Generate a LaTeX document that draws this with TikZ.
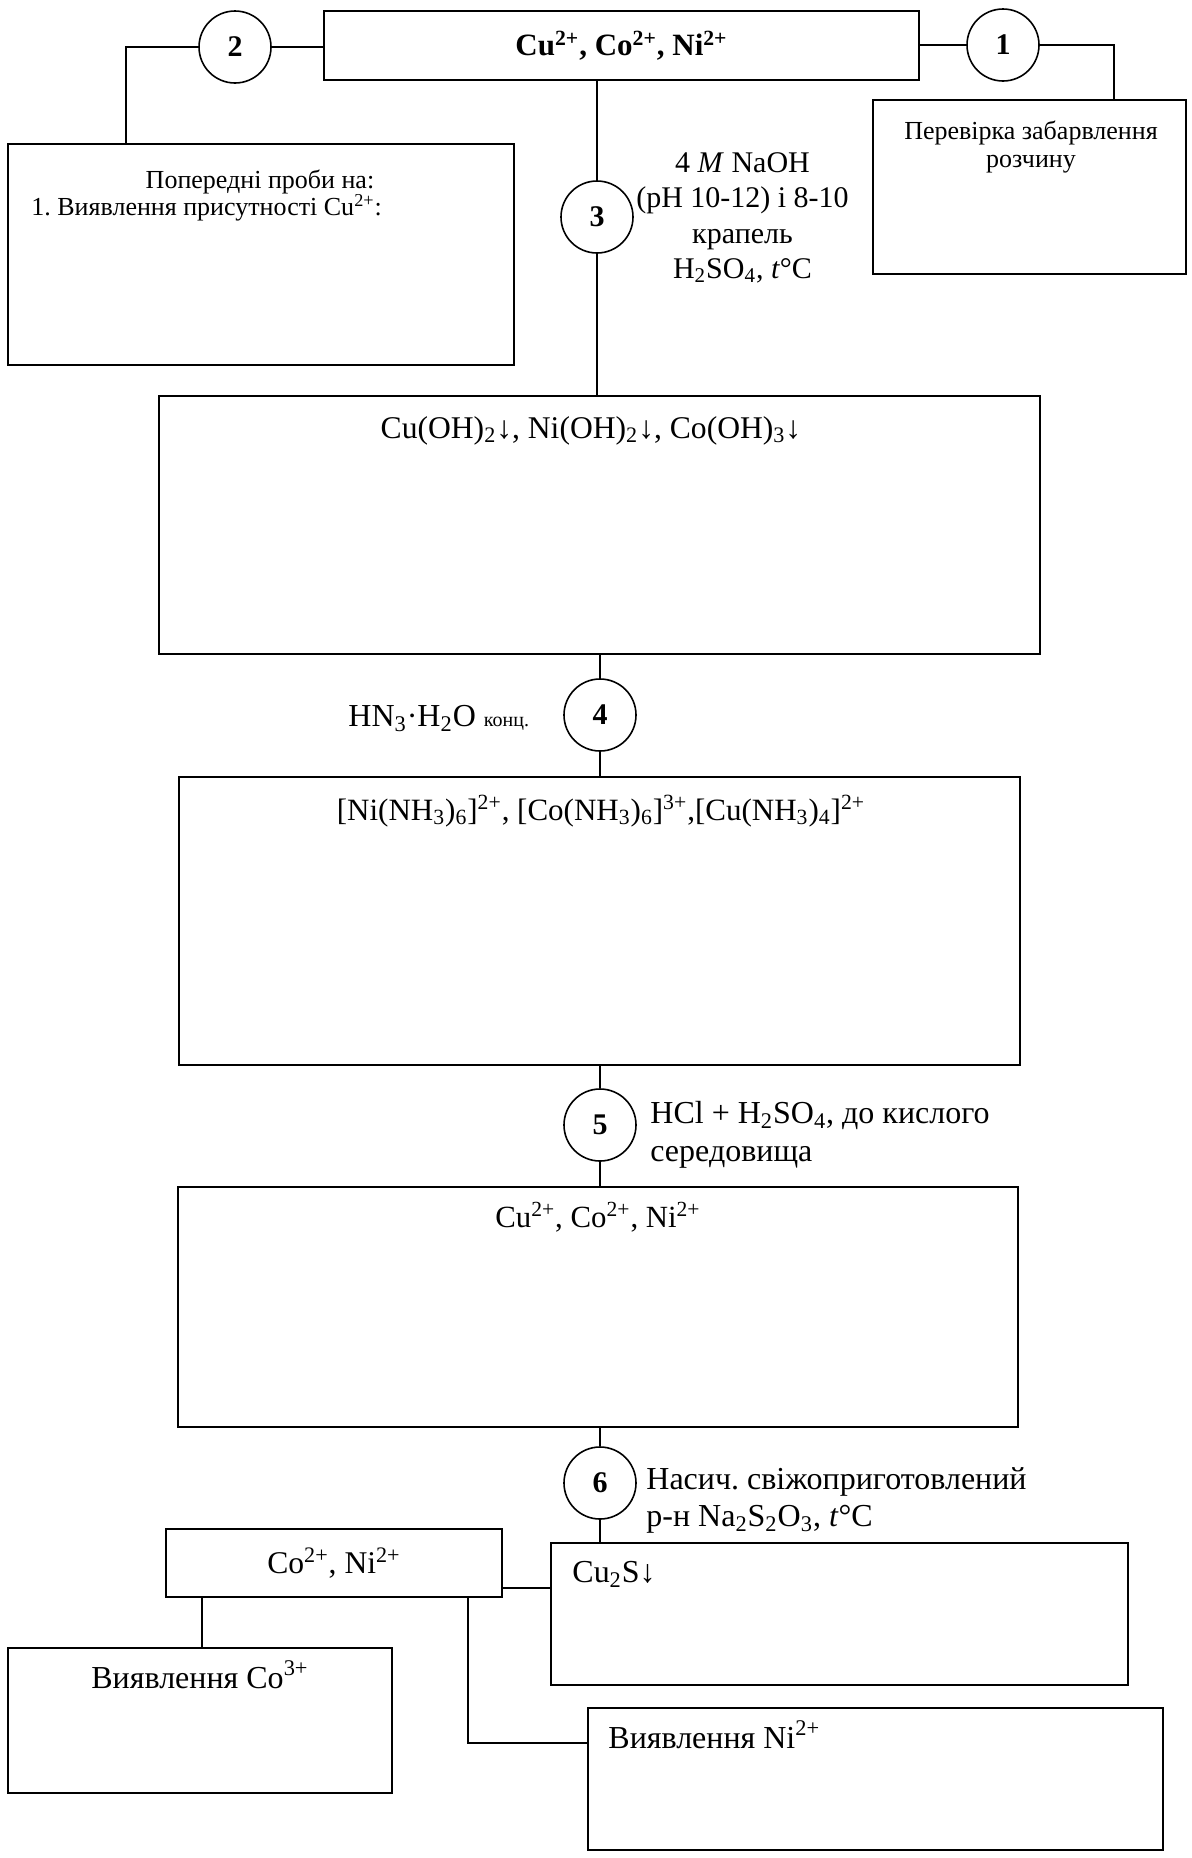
\documentclass[tikz,border=0pt]{standalone}
\usepackage{fontspec}
\setmainfont{Liberation Serif}
\usepackage{tikz}
\frenchspacing

\tikzset{
    stage/.style={draw, line width=0.8pt, inner sep=0pt, font=\fontsize{15.8}{18}\selectfont},
    num/.style={draw, circle, line width=0.8pt, minimum size=36pt, inner sep=0pt, font=\fontsize{15}{18}\selectfont\bfseries},
    txt/.style={inner sep=0pt, font=\fontsize{15.8}{18}\selectfont},
    link/.style={line width=0.8pt}
}

\begin{document}
    \begin{tikzpicture}[x=0.5pt, y=-0.5pt]
        \fill[white] (0,0) rectangle (1192,1858);
        \useasboundingbox (0,0) rectangle (1192,1858);

        \node[stage, minimum width=297.5pt, minimum height=34.5pt, font=\fontsize{15.5}{18}\selectfont\bfseries] (ions) at (621.5,45.5) {Cu\textsuperscript{2+}, Co\textsuperscript{2+}, Ni\textsuperscript{2+}};
        \node[num] (c2) at (235,47) {2};
        \node[num] (c1) at (1003,45) {1};
        \node[stage, minimum width=253pt, minimum height=110.5pt] (prelim) at (261,254.5) {};
        \node[stage, minimum width=156.5pt, minimum height=87pt] (colour) at (1029.5,187) {};
        \node[num] (c3) at (597,217) {3};
        \node[stage, minimum width=440.5pt, minimum height=129pt] (hydrox) at (599.5,525) {};
        \node[num] (c4) at (600,715) {4};
        \node[stage, minimum width=420.5pt, minimum height=144pt] (ammin) at (599.5,921) {};
        \node[num] (c5) at (600,1125) {5};
        \node[stage, minimum width=420pt, minimum height=120pt] (acid) at (598,1307) {};
        \node[num] (c6) at (600,1483) {6};
        \node[stage, minimum width=168pt, minimum height=34pt] (coni) at (334,1563) {Co\textsuperscript{2+}, Ni\textsuperscript{2+}};
        \node[stage, minimum width=288.5pt, minimum height=71pt] (cus) at (839.5,1614) {};
        \node[stage, minimum width=192pt, minimum height=72.5pt] (cothree) at (200,1720.5) {};
        \node[stage, minimum width=287.5pt, minimum height=71pt] (nitwo) at (875.5,1779) {};

        \node[txt, anchor=base, font=\fontsize{13}{14}\selectfont] (prelimhead) at (260,188) {Попередні проби на:};
        \node[txt, anchor=base west, font=\fontsize{13}{14}\selectfont] (prelimcu) at (31,215) {1. Виявлення присутності Cu\textsuperscript{2+}:};
        \node[txt, anchor=north, align=center, font=\fontsize{13}{14}\selectfont] (colourtxt) at (1031,120) {Перевірка забарвлення\\розчину};
        \node[txt, anchor=north, align=center, font=\fontsize{15}{17.7}\selectfont] (naoh) at (742.5,152) {4 \textit{M} NaOH\\(pH 10-12) і 8-10\\крапель\\H\textsubscript{2}SO\textsubscript{4}, \textit{t}°C};
        \node[txt, anchor=base] (hydroxtxt) at (591,438) {Cu(OH)\textsubscript{2}↓, Ni(OH)\textsubscript{2}↓, Co(OH)\textsubscript{3}↓};
        \node[txt, anchor=base west, font=\fontsize{16}{18}\selectfont] (ammonia) at (348,726) {HN\textsubscript{3}·H\textsubscript{2}O {\fontsize{10}{12}\selectfont конц.}};
        \node[txt, anchor=base, font=\fontsize{15.5}{18}\selectfont] (ammintxt) at (601,820) {[Ni(NH\textsubscript{3})\textsubscript{6}]\textsuperscript{2+}, [Co(NH\textsubscript{3})\textsubscript{6}]\textsuperscript{3+},[Cu(NH\textsubscript{3})\textsubscript{4}]\textsuperscript{2+}};
        \node[txt, anchor=north west, align=left, font=\fontsize{16}{19}\selectfont] (acidify) at (650,1101) {HCl + H\textsubscript{2}SO\textsubscript{4}, до кислого\\середовища};
        \node[txt, anchor=base, font=\fontsize{15.4}{18}\selectfont] (acidtxt) at (598,1227) {Cu\textsuperscript{2+}, Co\textsuperscript{2+}, Ni\textsuperscript{2+}};
        \node[txt, anchor=north west, align=left, font=\fontsize{16}{18.5}\selectfont] (thio) at (646,1467) {Насич. свіжоприготовлений\\р-н Na\textsubscript{2}S\textsubscript{2}O\textsubscript{3}, \textit{t}°C};
        \node[txt, anchor=base west, font=\fontsize{16}{18}\selectfont] (custxt) at (572,1582) {Cu\textsubscript{2}S↓};
        \node[txt, anchor=base, font=\fontsize{16}{18}\selectfont] (cothreetxt) at (200,1688) {Виявлення Co\textsuperscript{3+}};
        \node[txt, anchor=base west, font=\fontsize{16}{18}\selectfont] (nitwotxt) at (608,1748) {Виявлення Ni\textsuperscript{2+}};

        \coordinate (bend2) at (126,47);
        \coordinate (bend1) at (1114,45);
        \coordinate (jcus) at (520,1588);
        \coordinate (jco) at (202,1620);
        \coordinate (jni) at (468,1743);

        \draw[link] (c2.east) -- (c2.east -| ions.west);
        \draw[link] (c2.west) -- (bend2) -- (bend2 |- prelim.north);
        \draw[link] (c1.west -| ions.east) -- (c1.west);
        \draw[link] (c1.east) -- (bend1) -- (bend1 |- colour.north);
        \draw[link] (c3 |- ions.south) -- (c3.north);
        \draw[link] (c3.south) -- (c3 |- hydrox.north);
        \draw[link] (c4 |- hydrox.south) -- (c4.north);
        \draw[link] (c4.south) -- (c4 |- ammin.north);
        \draw[link] (c5 |- ammin.south) -- (c5.north);
        \draw[link] (c5.south) -- (c5 |- acid.north);
        \draw[link] (c6 |- acid.south) -- (c6.north);
        \draw[link] (c6.south) -- (c6 |- cus.north);
        \draw[link] (jcus -| coni.east) -- (jcus -| cus.west);
        \draw[link] (jco |- coni.south) -- (jco |- cothree.north);
        \draw[link] (jni |- coni.south) -- (jni) -- (jni -| nitwo.west);
    \end{tikzpicture}
\end{document}
